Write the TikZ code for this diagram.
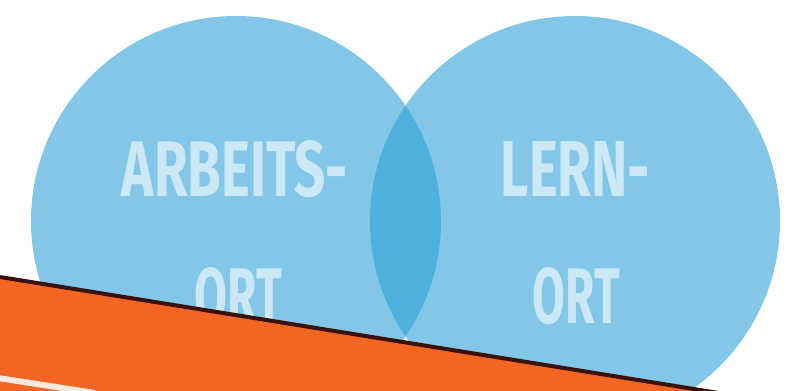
\documentclass[tikz,border=0pt]{standalone}
\usepackage{fontspec}
\setmainfont{Fira Sans}
\usepackage{graphicx}
\usepackage{tikz}
\usetikzlibrary{positioning}
\definecolor{circblue}{HTML}{82C6E8}
\definecolor{lensblue}{HTML}{4EB1DD}
\definecolor{wordblue}{HTML}{CDE8F5}
\definecolor{bandorange}{HTML}{F26522}
\definecolor{banddark}{HTML}{3A1209}

\begin{document}
\begin{tikzpicture}[
    x=1pt, y=-1pt,
    place/.style={
      circle,
      fill=circblue,
      minimum size=410pt,
      inner sep=0pt
    },
    word/.style={
      text=wordblue,
      inner sep=0pt,
      font=\bfseries
    },
    band/.style={
      fill=bandorange
    },
    bandedge/.style={
      draw=banddark,
      line width=4pt
    },
    streak/.style={
      draw=white,
      line width=6pt,
      opacity=0.85
    }
  ]
  \useasboundingbox (0,0) rectangle (793,391);

  \node[place] (arbeit) at (236,221) {};
  \node[place] (lern) at (575,221) {};

  % overlap of both places
  \begin{scope}
    \clip (arbeit.center) circle[radius=205pt];
    \fill[lensblue] (lern.center) circle[radius=205pt];
  \end{scope}

  \node[word] (arbeitsW) at (235,169) {\resizebox{226pt}{56pt}{ARBEITS-}};
  \node[word] (ortA) at (238.5,296) {\resizebox{87pt}{56pt}{ORT}};
  \node[word] (lernW) at (575.5,168.5) {\resizebox{149pt}{55pt}{LERN-}};
  \node[word] (ortL) at (576.5,296) {\resizebox{87pt}{56pt}{ORT}};

  % orange band
  \coordinate (bandL) at (0,277);
  \coordinate (bandR) at (793,405);
  \fill[band] (bandL) -- (bandR) -- (793,420) -- (0,420) -- cycle;
  \draw[bandedge] (bandL) -- (bandR);
  \coordinate (streakL) at (-2,378);
  \coordinate (streakR) at (95,393);
  \draw[streak] (streakL) -- (streakR);
\end{tikzpicture}
\end{document}
